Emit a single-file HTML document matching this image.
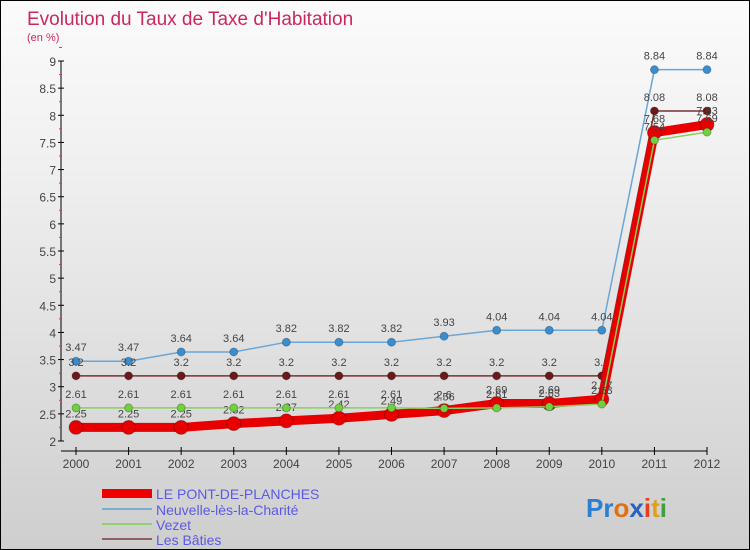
<!DOCTYPE html>
<html><head><meta charset="utf-8"><style>
body{margin:0}
#c{width:748px;height:548px;border:1px solid #000;background:linear-gradient(#fbfbfb,#f0f0f0 30%,#d8d8d8 80%,#cecece);position:relative;font-family:"Liberation Sans",sans-serif;overflow:hidden}
</style></head><body>
<div id="c">
<svg id="s" width="748" height="548" style="position:absolute;left:0;top:0">
<text x="26" y="24" font-size="19" fill="#c8285f">Evolution du Taux de Taxe d'Habitation</text>
<text x="26" y="40" font-size="11" fill="#c8285f">(en %)</text>
<g id="ax"></g><g id="series"></g>
<g font-size="14" fill="#5a5ae6">
<rect x="101" y="488" width="50" height="9" fill="#e00"/>
<text x="155" y="498">LE PONT-DE-PLANCHES</text>
<line x1="101" x2="151" y1="508" y2="508" stroke="#7aaed0" stroke-width="2"/>
<text x="155" y="514">Neuvelle-lès-la-Charité</text>
<line x1="101" x2="151" y1="523" y2="523" stroke="#90d070" stroke-width="2"/>
<text x="155" y="529">Vezet</text>
<line x1="101" x2="151" y1="538" y2="538" stroke="#906060" stroke-width="2"/>
<text x="155" y="544">Les Bâties</text>
</g>
<text x="585" y="516" font-size="26" font-weight="bold"><tspan fill="#2a7fd0">Pr</tspan><tspan fill="#e07010">o</tspan><tspan fill="#2a60c0">x</tspan><tspan fill="#e04020">i</tspan><tspan fill="#e0a020">t</tspan><tspan fill="#40a040">i</tspan></text>
</svg>
</div>
<script>
const years=[2000,2001,2002,2003,2004,2005,2006,2007,2008,2009,2010,2011,2012];
const yTicks=[2,2.5,3,3.5,4,4.5,5,5.5,6,6.5,7,7.5,8,8.5,9];
const pont=[2.25,2.25,2.25,2.32,2.37,2.42,2.49,2.56,2.69,2.69,2.77,7.68,7.83];
const neuvelle=[3.47,3.47,3.64,3.64,3.82,3.82,3.82,3.93,4.04,4.04,4.04,8.84,8.84];
const vezet=[2.61,2.61,2.61,2.61,2.61,2.61,2.61,2.6,2.61,2.63,2.68,7.54,7.69];
const baties=[3.2,3.2,3.2,3.2,3.2,3.2,3.2,3.2,3.2,3.2,3.2,8.08,8.08];
const NS="http://www.w3.org/2000/svg";
const X=i=>75+i*(706-75)/(years.length-1);
const Y=v=>440-(v-2)*(380/7);
function mk(tag,at,parent){const e=document.createElementNS(NS,tag);for(const k in at)e.setAttribute(k,at[k]);parent.appendChild(e);return e;}
const ax=document.getElementById('ax'),sg=document.getElementById('series');
let a=mk('line',{x1:60,x2:60,y1:Y(9),y2:Y(2),stroke:'#000'},ax);


a=mk('line',{x1:60,x2:X(12),y1:450,y2:450,stroke:'#000'},ax);


yTicks.forEach(v=>{
 mk('line',{x1:57,x2:63,y1:Y(v),y2:Y(v),stroke:'#000'},ax);
 mk('line',{x1:58,x2:61,y1:Y(v+0.25),y2:Y(v+0.25),stroke:'#e33'},ax);
 const t=mk('text',{x:55,y:Y(v)+5,'text-anchor':'end','font-size':12,fill:'#444'},ax);
 t.textContent=v;
 
 
});
years.forEach((y,i)=>{
 mk('line',{x1:X(i),x2:X(i),y1:446,y2:454,stroke:'#000'},ax);
 const t=mk('text',{x:X(i),y:467,'text-anchor':'middle','font-size':12,fill:'#444'},ax);
 t.textContent=y;
 
 
});
function series(data,name,col,w,r,dot){
 const g=mk('g',{},sg);
 
 
 mk('polyline',{points:data.map((v,i)=>X(i)+','+Y(v)).join(' '),fill:'none',stroke:col,'stroke-width':w},g);
 data.forEach((v,i)=>{
  const c=mk('circle',{cx:X(i),cy:Y(v),r:r,fill:dot,stroke:'rgba(0,0,0,0.25)'},g);
  
  
  const t=mk('text',{x:X(i),y:Y(v)-10,'text-anchor':'middle','font-size':11,fill:'#444'},g);
  t.textContent=v;
  
  
 });
}
series(neuvelle,'neuvelle','#6aa6d6',1.5,4,'#3a8ed0');
series(baties,'baties','#7a3030',1.5,4,'#6a1a1a');
series(pont,'pont','#e80000',9,7,'#e80000');
series(vezet,'vezet','#88d060',1.5,4,'#70d040');
</script>
</body></html>
